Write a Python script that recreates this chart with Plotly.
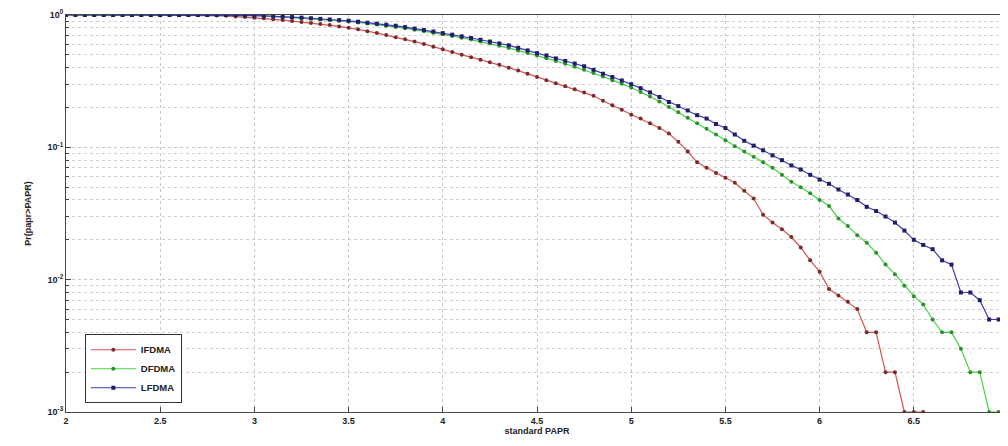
import plotly.graph_objects as go

papr = [round(2 + 0.05 * i, 2) for i in range(101)]

ifdma = [1.0] * 15 + [
    0.995, 0.99, 0.985, 0.975, 0.965, 0.955, 0.945, 0.93, 0.915, 0.9,
    0.885, 0.87, 0.855, 0.84, 0.82, 0.8, 0.78, 0.755, 0.73, 0.705,
    0.68, 0.655, 0.63, 0.605, 0.575, 0.55, 0.525, 0.5, 0.48, 0.46,
    0.44, 0.42, 0.4, 0.38, 0.36, 0.34, 0.322, 0.305, 0.29, 0.275,
    0.26, 0.245, 0.225, 0.208, 0.192, 0.176, 0.165, 0.152, 0.14, 0.127,
    0.11, 0.093, 0.077, 0.07, 0.064, 0.059, 0.054, 0.047, 0.041, 0.031,
    0.027, 0.024, 0.021, 0.0175, 0.014, 0.0115, 0.0085, 0.0076, 0.0068, 0.006,
    0.004, 0.004, 0.002, 0.002, 0.001, 0.001, 0.001,
    None, None, None, None, None, None, None, None, None]

dfdma = [1.0] * 19 + [
    0.995, 0.99, 0.985, 0.975, 0.968, 0.96, 0.95, 0.94, 0.93, 0.918,
    0.905, 0.893, 0.878, 0.863, 0.847, 0.83, 0.813, 0.795, 0.775, 0.755,
    0.735, 0.714, 0.694, 0.673, 0.652, 0.63, 0.608, 0.585, 0.562, 0.54,
    0.517, 0.494, 0.472, 0.45, 0.428, 0.406, 0.385, 0.364, 0.343, 0.322,
    0.302, 0.283, 0.262, 0.242, 0.222, 0.202, 0.184, 0.167, 0.152, 0.138,
    0.125, 0.113, 0.102, 0.093, 0.085, 0.077, 0.07, 0.062, 0.055, 0.05,
    0.045, 0.04, 0.036, 0.029, 0.0254, 0.0217, 0.019, 0.016, 0.013, 0.011,
    0.009, 0.0075, 0.0065, 0.005, 0.004, 0.004, 0.003, 0.002, 0.002, 0.001,
    0.001, 0.001]

lfdma = [1.0] * 19 + [
    0.995, 0.99, 0.985, 0.98, 0.97, 0.965, 0.955, 0.945, 0.935, 0.925,
    0.915, 0.905, 0.89, 0.875, 0.86, 0.845, 0.83, 0.81, 0.79, 0.77,
    0.75, 0.73, 0.71, 0.69, 0.67, 0.65, 0.63, 0.61, 0.59, 0.565,
    0.54, 0.515, 0.495, 0.47, 0.45, 0.43, 0.41, 0.385, 0.36, 0.34,
    0.32, 0.3, 0.28, 0.26, 0.24, 0.22, 0.205, 0.19, 0.175, 0.165,
    0.15, 0.14, 0.125, 0.112, 0.103, 0.095, 0.087, 0.08, 0.073, 0.068,
    0.062, 0.057, 0.053, 0.048, 0.044, 0.04, 0.0355, 0.033, 0.03, 0.027,
    0.0235, 0.02, 0.0183, 0.017, 0.014, 0.013, 0.008, 0.008, 0.007, 0.005,
    0.005, 0.005]

series = [
    ("IFDMA", ifdma, "#d9534f", "#7a2a2a", "circle"),
    ("DFDMA", dfdma, "#44d444", "#2f8f2f", "circle"),
    ("LFDMA", lfdma, "#3a3ab8", "#1f1f66", "square"),
]

xtick_vals = [2, 2.5, 3, 3.5, 4, 4.5, 5, 5.5, 6, 6.5]
xtick_text = ["2", "2.5", "3", "3.5", "4", "4.5", "5", "5.5", "6", "6.5"]
ytick_vals = [1, 0.1, 0.01, 0.001]
ytick_text = ["10<sup>0</sup>", "10<sup>-1</sup>", "10<sup>-2</sup>", "10<sup>-3</sup>"]

fig = go.Figure()
for name, vals, lc, mc, sym in series:
    fig.add_trace(go.Scatter(
        x=papr, y=vals, name=name, mode="lines+markers",
        line=dict(color=lc, width=1.2),
        marker=dict(color=mc, size=4, symbol=sym),
        connectgaps=False,
    ))

font = "Liberation Sans, Arial, sans-serif"
fig.update_layout(
    width=1000, height=438,
    margin=dict(l=58, r=0, t=7, b=34, autoexpand=False),
    paper_bgcolor="white", plot_bgcolor="white",
    font=dict(family=font, size=9, color="#222"),
    showlegend=True,
    legend=dict(
        x=0.02, y=0.022, xanchor="left", yanchor="bottom",
        bordercolor="#333", borderwidth=1, bgcolor="white",
        font=dict(family=font, size=9.5, color="#222", weight="bold"),
        tracegroupgap=0, itemwidth=45,
    ),
    xaxis=dict(
        range=[2, 7], tickvals=xtick_vals, ticktext=xtick_text,
        showline=True, linecolor="#444", linewidth=1, mirror=True,
        ticks="inside", ticklen=5, tickcolor="#444",
        showgrid=True, gridcolor="#c8c8c8", griddash="dot", gridwidth=1,
        zeroline=False,
        tickfont=dict(family=font, size=9, color="#222", weight="bold"),
        title=dict(text="standard PAPR", standoff=2,
                   font=dict(family=font, size=9, color="#222", weight="bold")),
    ),
    yaxis=dict(
        type="log", range=[-3, 0], tickvals=ytick_vals, ticktext=ytick_text,
        showline=True, linecolor="#444", linewidth=1, mirror=True,
        ticks="inside", ticklen=5, tickcolor="#444",
        showgrid=True, gridcolor="#c8c8c8", griddash="dot", gridwidth=1,
        zeroline=False,
        minor=dict(showgrid=True, gridcolor="#cfcfcf", griddash="dot",
                   ticks="inside", ticklen=3, tickcolor="#444", dtick="D1"),
        tickfont=dict(family=font, size=9, color="#222", weight="bold"),
        title=dict(text="Pr(papr>PAPR)", standoff=14,
                   font=dict(family=font, size=9, color="#222", weight="bold")),
    ),
)

fig.write_html("out.html")
